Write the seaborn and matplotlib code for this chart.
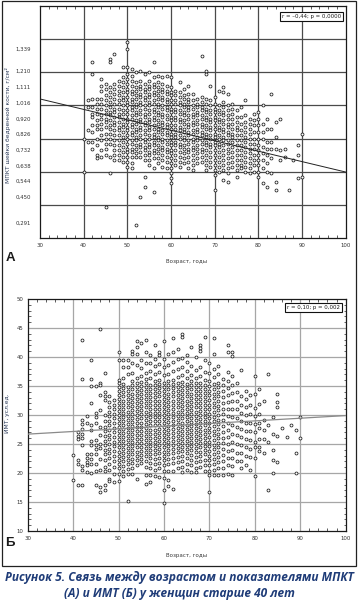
import matplotlib.pyplot as plt
import seaborn as sns
import pandas as pd
import numpy as np
from matplotlib.patches import Rectangle

# --- panel A: femoral neck BMD (g/cm2) by age, one sub-list per year of age ---
bmd_40s = [
    [0.80, 0.60],
    [1.03, 0.99, 0.85, 0.78],
    [1.26, 1.19, 1.04, 0.99, 0.95, 0.93, 0.88, 0.84, 0.78, 0.74],
    [1.04, 1.01, 0.98, 0.95, 0.91, 0.88, 0.86, 0.80, 0.76, 0.70, 0.68],
    [1.16, 1.12, 1.09, 1.04, 1.01, 0.98, 0.94, 0.92, 0.89, 0.86, 0.82, 0.79, 0.73, 0.69],
    [1.13, 1.10, 1.06, 1.03, 1.00, 0.97, 0.95, 0.92, 0.90, 0.87, 0.83, 0.80, 0.77, 0.74, 0.70, 0.39],
    [1.28, 1.26, 1.11, 1.08, 1.05, 1.02, 0.99, 0.96, 0.94, 0.91, 0.88, 0.86, 0.83, 0.80, 0.77, 0.69, 0.59],
    [1.31, 1.13, 1.10, 1.07, 1.04, 1.01, 0.98, 0.96, 0.93, 0.90, 0.88, 0.85, 0.82, 0.79, 0.76, 0.73, 0.70, 0.67],
    [1.15, 1.12, 1.09, 1.06, 1.03, 1.01, 0.98, 0.95, 0.93, 0.90, 0.87, 0.85, 0.82, 0.79, 0.76, 0.73, 0.70, 0.67],
    [1.23, 1.17, 1.14, 1.11, 1.08, 1.05, 1.03, 1.00, 0.97, 0.95, 0.92, 0.89, 0.87, 0.84, 0.81, 0.78, 0.75, 0.72, 0.69, 0.66],
]
bmd_50s = [
    [1.38, 1.34, 1.23, 1.19, 1.16, 1.13, 1.10, 1.08, 1.05, 1.02, 1.00, 0.97, 0.95, 0.92, 0.90, 0.87, 0.85, 0.82, 0.80, 0.77, 0.74, 0.72, 0.69, 0.66, 0.63],
    [1.22, 1.18, 1.15, 1.12, 1.09, 1.07, 1.04, 1.02, 0.99, 0.97, 0.94, 0.92, 0.89, 0.87, 0.84, 0.82, 0.79, 0.77, 0.74, 0.72, 0.69, 0.65, 0.62],
    [1.20, 1.14, 1.11, 1.09, 1.06, 1.04, 1.01, 0.99, 0.96, 0.94, 0.91, 0.89, 0.86, 0.84, 0.81, 0.79, 0.76, 0.74, 0.71, 0.69, 0.28],
    [1.21, 1.15, 1.12, 1.10, 1.07, 1.05, 1.02, 1.00, 0.97, 0.95, 0.92, 0.90, 0.87, 0.85, 0.82, 0.80, 0.77, 0.75, 0.72, 0.69, 0.45],
    [1.19, 1.13, 1.10, 1.08, 1.05, 1.03, 1.00, 0.98, 0.95, 0.93, 0.90, 0.88, 0.85, 0.83, 0.80, 0.78, 0.75, 0.73, 0.70, 0.67, 0.57, 0.51],
    [1.20, 1.15, 1.12, 1.10, 1.07, 1.05, 1.02, 1.00, 0.97, 0.95, 0.92, 0.90, 0.87, 0.85, 0.82, 0.80, 0.77, 0.75, 0.72, 0.70, 0.67, 0.64],
    [1.26, 1.17, 1.13, 1.11, 1.08, 1.06, 1.03, 1.01, 0.98, 0.96, 0.93, 0.91, 0.88, 0.86, 0.83, 0.81, 0.78, 0.76, 0.73, 0.71, 0.68, 0.62, 0.48],
    [1.18, 1.14, 1.11, 1.09, 1.06, 1.04, 1.01, 0.99, 0.96, 0.94, 0.91, 0.89, 0.86, 0.84, 0.81, 0.79, 0.76, 0.74, 0.71, 0.68, 0.65],
    [1.17, 1.13, 1.10, 1.08, 1.05, 1.03, 1.00, 0.98, 0.95, 0.93, 0.90, 0.88, 0.85, 0.83, 0.80, 0.78, 0.75, 0.73, 0.70, 0.67, 0.63],
    [1.18, 1.12, 1.09, 1.07, 1.04, 1.02, 0.99, 0.97, 0.94, 0.92, 0.89, 0.87, 0.84, 0.82, 0.79, 0.77, 0.74, 0.72, 0.69, 0.66, 0.62],
]
bmd_60s = [
    [1.17, 1.11, 1.08, 1.06, 1.03, 1.01, 0.98, 0.96, 0.93, 0.91, 0.88, 0.86, 0.83, 0.81, 0.78, 0.76, 0.73, 0.71, 0.68, 0.65, 0.62, 0.59, 0.56, 0.53],
    [1.09, 1.06, 1.03, 1.01, 0.98, 0.96, 0.93, 0.91, 0.88, 0.86, 0.83, 0.81, 0.78, 0.76, 0.73, 0.70, 0.67, 0.64],
    [1.14, 1.08, 1.05, 1.02, 1.00, 0.97, 0.95, 0.92, 0.90, 0.87, 0.85, 0.82, 0.80, 0.77, 0.75, 0.72, 0.69, 0.66, 0.63],
    [1.10, 1.06, 1.04, 1.01, 0.99, 0.96, 0.94, 0.91, 0.89, 0.86, 0.84, 0.81, 0.79, 0.76, 0.74, 0.71, 0.68, 0.65],
    [1.12, 1.07, 1.04, 1.02, 0.99, 0.97, 0.94, 0.92, 0.89, 0.87, 0.84, 0.82, 0.79, 0.77, 0.74, 0.72, 0.69, 0.66, 0.62],
    [1.07, 1.03, 1.00, 0.98, 0.95, 0.93, 0.90, 0.88, 0.85, 0.83, 0.80, 0.78, 0.75, 0.73, 0.70, 0.67, 0.64, 0.61],
    [1.04, 1.01, 0.99, 0.96, 0.94, 0.91, 0.89, 0.86, 0.84, 0.81, 0.79, 0.76, 0.74, 0.71, 0.68, 0.65],
    [1.30, 1.05, 1.02, 0.99, 0.97, 0.94, 0.92, 0.89, 0.87, 0.84, 0.82, 0.79, 0.77, 0.74, 0.72, 0.69, 0.66],
    [1.21, 1.19, 1.04, 1.01, 0.98, 0.96, 0.93, 0.91, 0.88, 0.86, 0.83, 0.81, 0.78, 0.76, 0.73, 0.70, 0.67, 0.64, 0.61],
    [1.12, 1.03, 1.00, 0.97, 0.95, 0.92, 0.90, 0.87, 0.85, 0.82, 0.80, 0.77, 0.75, 0.72, 0.69, 0.66, 0.63],
]
bmd_70s = [
    [1.05, 1.01, 0.98, 0.96, 0.93, 0.91, 0.88, 0.86, 0.83, 0.81, 0.78, 0.76, 0.73, 0.70, 0.67, 0.64, 0.61, 0.58, 0.49],
    [1.09, 1.00, 0.97, 0.95, 0.92, 0.90, 0.87, 0.85, 0.82, 0.80, 0.77, 0.75, 0.72, 0.69, 0.66, 0.63, 0.60],
    [1.11, 1.08, 1.02, 0.99, 0.96, 0.94, 0.91, 0.89, 0.86, 0.84, 0.81, 0.79, 0.76, 0.73, 0.70, 0.67, 0.64, 0.61, 0.55],
    [1.07, 1.00, 0.97, 0.94, 0.92, 0.89, 0.87, 0.84, 0.82, 0.79, 0.77, 0.74, 0.71, 0.68, 0.65, 0.62, 0.59, 0.54],
    [1.01, 0.98, 0.95, 0.92, 0.89, 0.86, 0.83, 0.81, 0.78, 0.75, 0.72, 0.69, 0.66, 0.63],
    [0.97, 0.93, 0.90, 0.87, 0.85, 0.82, 0.79, 0.76, 0.73, 0.70, 0.67, 0.64, 0.61, 0.57],
    [0.99, 0.93, 0.89, 0.85, 0.82, 0.79, 0.76, 0.73, 0.70, 0.67, 0.64, 0.62],
    [1.03, 0.94, 0.90, 0.87, 0.84, 0.81, 0.78, 0.75, 0.72, 0.69, 0.66, 0.63, 0.60],
    [0.92, 0.89, 0.86, 0.83, 0.80, 0.77, 0.74, 0.71, 0.68, 0.65, 0.62, 0.59],
    [0.95, 0.91, 0.88, 0.84, 0.80, 0.77, 0.74, 0.70, 0.67, 0.64, 0.60],
]
bmd_80s = [
    [0.96, 0.92, 0.88, 0.84, 0.80, 0.76, 0.73, 0.70, 0.67, 0.64, 0.60, 0.57],
    [1.00, 0.89, 0.84, 0.80, 0.75, 0.71, 0.67, 0.62, 0.53],
    [0.92, 0.86, 0.78, 0.74, 0.70, 0.65, 0.60, 0.51],
    [1.07, 0.86, 0.78, 0.74, 0.68, 0.59],
    [0.90, 0.81, 0.74, 0.54, 0.49],
    [0.92, 0.73, 0.67],
    [0.74, 0.69],
    [0.49],
    [0.67],
    [0.76, 0.70, 0.56],
    [0.83, 0.57],
]

# --- panel B: BMI by age ---
bmi_40s = [
    [23.1, 18.8],
    [27.0, 26.3, 25.8, 22.3, 21.6, 17.9],
    [42.9, 36.2, 29.2, 28.4, 27.6, 26.8, 26.0, 24.9, 21.2, 20.5, 18.0],
    [29.9, 28.6, 23.2, 22.6, 21.9, 21.3, 20.1],
    [39.5, 36.2, 35.0, 32.0, 28.2, 27.4, 25.5, 24.8, 23.2, 22.5, 21.5, 20.0],
    [35.0, 30.4, 29.6, 28.6, 25.7, 24.9, 24.1, 23.2, 21.6, 20.4, 18.0],
    [44.8, 35.6, 35.2, 33.5, 30.8, 28.0, 26.5, 25.0, 24.3, 22.4, 20.5, 17.6, 16.8],
    [37.2, 34.0, 33.2, 32.6, 30.0, 29.0, 28.0, 27.2, 26.4, 25.6, 24.8, 24.0, 23.2, 22.3, 21.0, 20.3, 17.9, 17.0],
    [33.2, 32.2, 31.4, 30.6, 29.8, 29.0, 28.2, 27.4, 26.6, 25.8, 25.0, 24.2, 23.4, 22.6, 21.6, 20.6, 19.0, 18.7],
    [32.6, 31.8, 31.0, 30.2, 29.4, 28.6, 27.8, 27.0, 26.2, 25.4, 24.6, 23.8, 23.0, 22.0, 21.0, 19.8, 18.4],
]
bmi_50s = [
    [40.9, 39.4, 36.0, 35.5, 34.9, 34.2, 33.5, 32.8, 32.1, 31.4, 30.7, 30.0, 29.3, 28.6, 27.9, 27.2, 26.5, 25.8, 25.1, 24.4, 23.7, 23.0, 22.3, 21.6, 20.8, 19.9, 18.7],
    [39.4, 38.3, 36.4, 35.3, 34.6, 33.9, 33.2, 32.5, 31.8, 31.1, 30.4, 29.7, 29.0, 28.3, 27.6, 26.9, 26.2, 25.5, 24.8, 24.1, 23.4, 22.7, 22.0, 21.2, 20.3, 19.4],
    [39.4, 38.3, 37.0, 34.8, 34.1, 33.4, 32.7, 32.0, 31.3, 30.6, 29.9, 29.2, 28.5, 27.8, 27.1, 26.4, 25.7, 25.0, 24.3, 23.6, 22.9, 22.2, 21.5, 20.7, 19.9, 15.2],
    [41.1, 40.6, 39.0, 37.2, 35.8, 35.1, 34.4, 33.7, 33.0, 32.3, 31.6, 30.9, 30.2, 29.5, 28.8, 28.1, 27.4, 26.7, 26.0, 25.3, 24.6, 23.9, 23.2, 22.5, 21.8, 20.9, 19.8],
    [42.7, 41.7, 40.5, 38.6, 36.3, 35.6, 34.9, 34.2, 33.5, 32.8, 32.1, 31.4, 30.7, 30.0, 29.3, 28.6, 27.9, 27.2, 26.5, 25.8, 25.1, 24.4, 23.7, 23.0, 22.2, 21.3, 18.9],
    [42.5, 39.4, 38.1, 36.8, 35.7, 35.0, 34.3, 33.6, 32.9, 32.2, 31.5, 30.8, 30.1, 29.4, 28.7, 28.0, 27.3, 26.6, 25.9, 25.2, 24.5, 23.8, 23.1, 22.4, 21.7],
    [43.0, 40.8, 38.9, 37.3, 36.2, 35.5, 34.8, 34.1, 33.4, 32.7, 32.0, 31.3, 30.6, 29.9, 29.2, 28.5, 27.8, 27.1, 26.4, 25.7, 25.0, 24.3, 23.6, 22.9, 22.0, 21.1, 19.6, 18.1],
    [40.4, 38.9, 37.6, 36.3, 35.2, 34.5, 33.8, 33.1, 32.4, 31.7, 31.0, 30.3, 29.6, 28.9, 28.2, 27.5, 26.8, 26.1, 25.4, 24.7, 24.0, 23.3, 22.6, 21.8, 20.9, 19.6, 18.4],
    [42.0, 39.6, 38.4, 37.1, 35.9, 35.2, 34.5, 33.8, 33.1, 32.4, 31.7, 31.0, 30.3, 29.6, 28.9, 28.2, 27.5, 26.8, 26.1, 25.4, 24.7, 24.0, 23.3, 22.5, 21.6, 20.6, 19.5],
    [40.8, 40.3, 38.8, 37.4, 36.0, 35.3, 34.6, 33.9, 33.2, 32.5, 31.8, 31.1, 30.4, 29.7, 29.0, 28.3, 27.6, 26.9, 26.2, 25.5, 24.8, 24.1, 23.4, 22.6, 21.8, 20.8, 19.3],
]
bmi_60s = [
    [42.8, 39.6, 38.2, 36.9, 35.6, 34.9, 34.2, 33.5, 32.8, 32.1, 31.4, 30.7, 30.0, 29.3, 28.6, 27.9, 27.2, 26.5, 25.8, 25.1, 24.4, 23.7, 23.0, 22.2, 21.3, 20.3, 19.2, 17.0, 14.8],
    [40.6, 38.6, 37.0, 35.8, 35.1, 34.4, 33.7, 33.0, 32.3, 31.6, 30.9, 30.2, 29.5, 28.8, 28.1, 27.4, 26.7, 26.0, 25.3, 24.6, 23.9, 23.2, 22.4, 21.5, 20.4, 18.8, 17.8],
    [43.3, 40.8, 39.1, 37.6, 36.1, 35.3, 34.6, 33.9, 33.2, 32.5, 31.8, 31.1, 30.4, 29.7, 29.0, 28.3, 27.6, 26.9, 26.2, 25.5, 24.8, 24.1, 23.4, 22.6, 21.7, 20.3, 17.3],
    [41.4, 39.6, 38.0, 36.6, 35.5, 34.8, 34.1, 33.4, 32.7, 32.0, 31.3, 30.6, 29.9, 29.2, 28.5, 27.8, 27.1, 26.4, 25.7, 25.0, 24.3, 23.6, 22.8, 21.9, 20.8],
    [43.9, 43.4, 39.9, 38.3, 36.9, 35.7, 35.0, 34.3, 33.6, 32.9, 32.2, 31.5, 30.8, 30.1, 29.4, 28.7, 28.0, 27.3, 26.6, 25.9, 25.2, 24.5, 23.8, 23.0, 22.1, 21.1, 20.2],
    [40.3, 39.1, 37.6, 36.3, 35.3, 34.6, 33.9, 33.2, 32.5, 31.8, 31.1, 30.4, 29.7, 29.0, 28.3, 27.6, 26.9, 26.2, 25.5, 24.8, 24.1, 23.4, 22.6, 21.5, 20.5],
    [41.8, 38.5, 36.9, 35.8, 35.1, 34.4, 33.7, 33.0, 32.3, 31.6, 30.9, 30.2, 29.5, 28.8, 28.1, 27.4, 26.7, 26.0, 25.3, 24.6, 23.9, 23.1, 22.2, 21.3, 20.2],
    [40.0, 37.8, 36.4, 35.5, 34.8, 34.1, 33.4, 32.7, 32.0, 31.3, 30.6, 29.9, 29.2, 28.5, 27.8, 27.1, 26.4, 25.7, 25.0, 24.3, 23.6, 22.8, 21.9, 20.8, 20.2],
    [42.0, 41.5, 41.0, 38.2, 36.8, 35.6, 34.9, 34.2, 33.5, 32.8, 32.1, 31.4, 30.7, 30.0, 29.3, 28.6, 27.9, 27.2, 26.5, 25.8, 25.1, 24.4, 23.7, 22.9, 22.0, 21.0],
    [43.5, 39.5, 37.4, 36.1, 35.2, 34.5, 33.8, 33.1, 32.4, 31.7, 31.0, 30.3, 29.6, 28.9, 28.2, 27.5, 26.8, 26.1, 25.4, 24.7, 24.0, 23.2, 22.3, 21.4, 20.4],
]
bmi_70s = [
    [39.0, 37.2, 35.9, 35.0, 34.2, 33.4, 32.6, 31.8, 31.0, 30.2, 29.4, 28.6, 27.8, 27.0, 26.2, 25.4, 24.6, 23.8, 23.0, 22.2, 21.3, 20.4, 19.6, 16.8],
    [43.3, 40.6, 37.9, 36.5, 35.3, 34.5, 33.7, 32.9, 32.1, 31.3, 30.5, 29.7, 28.9, 28.1, 27.3, 26.5, 25.7, 24.9, 24.1, 23.3, 22.5, 21.6, 20.6, 19.6],
    [38.5, 37.0, 35.6, 34.8, 34.0, 33.2, 32.4, 31.6, 30.8, 30.0, 29.2, 28.4, 27.6, 26.8, 26.0, 25.2, 24.4, 23.6, 22.8, 21.9, 20.9, 19.7],
    [36.2, 35.1, 34.1, 33.1, 32.1, 31.1, 30.1, 29.1, 28.1, 27.1, 26.1, 25.1, 24.1, 23.1, 22.0, 20.9, 19.7],
    [42.0, 40.8, 37.4, 35.8, 34.6, 33.4, 32.2, 31.0, 29.8, 28.6, 27.4, 26.2, 25.0, 23.8, 22.6, 21.4, 19.8],
    [40.8, 40.1, 36.8, 35.2, 33.8, 32.4, 31.0, 29.6, 28.2, 26.8, 25.4, 24.0, 22.6, 21.2, 19.7],
    [35.5, 33.9, 32.5, 31.0, 29.5, 28.0, 26.5, 25.0, 23.5, 22.0],
    [37.8, 33.2, 31.8, 30.4, 29.0, 27.6, 26.2, 24.8, 23.4, 22.0, 20.8],
    [34.2, 32.8, 31.4, 30.0, 28.6, 27.2, 25.8, 24.4, 23.0, 21.4],
    [33.4, 31.8, 30.2, 28.7, 27.2, 25.7, 24.2, 22.7, 20.5],
]
bmi_80s = [
    [36.8, 33.6, 31.2, 29.8, 28.4, 27.0, 25.4, 24.4, 22.6, 19.5],
    [34.4, 31.9, 30.2, 28.6, 27.8, 25.8, 24.5, 23.8],
    [32.5, 29.1, 27.4, 25.9, 23.4],
    [37.1, 28.2, 25.4, 17.1],
    [29.6, 26.7, 24.0, 22.2, 20.0],
    [33.6, 32.2, 31.4, 26.3, 21.9],
    [27.8],
    [26.2],
    [28.2],
    [27.5, 23.5, 20.0],
    [29.6, 26.0],
]
decade_starts = [40, 50, 60, 70, 80]

# straight fit lines (intercept, slope)
fit_a = (1.228, -0.0063)
fit_b = (25.33, 0.0457)
stat_a = 'r = \u20130,44; p = 0,0000'
stat_b = 'r = 0,10; p = 0,002'

bmd_ticks = [0.291, 0.450, 0.544, 0.638, 0.732, 0.826, 0.920, 1.016, 1.111, 1.210, 1.339]


def to_frame(blocks, col):
    rows = []
    for start, block in zip(decade_starts, blocks):
        for i, vals in enumerate(block):
            for v in vals:
                rows.append((start + i, v))
    return pd.DataFrame(rows, columns=['age', col])


df_a = to_frame([bmd_40s, bmd_50s, bmd_60s, bmd_70s, bmd_80s], 'bmd')
df_b = to_frame([bmi_40s, bmi_50s, bmi_60s, bmi_70s, bmi_80s], 'bmi')

sns.set_style('white')
plt.rcParams['font.family'] = ['DejaVu Sans']

W, H = 358, 600
fig = plt.figure(figsize=(W / 100, H / 100), dpi=100)


def px_axes(x0, y0, x1, y1):
    return fig.add_axes([x0 / W, 1 - y1 / H, (x1 - x0) / W, (y1 - y0) / H])


ax_a = px_axes(40, 6, 345.7, 238)
ax_b = px_axes(27.7, 299, 345.6, 531)

pt_kw = dict(marker='o', s=4.5, facecolor='white', edgecolor='#1a1a1a',
             linewidth=0.55, legend=False, zorder=3)
sns.scatterplot(data=df_a, x='age', y='bmd', ax=ax_a, **pt_kw)
sns.scatterplot(data=df_b, x='age', y='bmi', ax=ax_b, **pt_kw)

xs = np.array([30, 100])
sns.lineplot(x=xs, y=fit_a[0] + fit_a[1] * xs, ax=ax_a, color='#222222', lw=0.7, zorder=4)
sns.lineplot(x=xs, y=fit_b[0] + fit_b[1] * xs, ax=ax_b, color='#8a8a8a', lw=0.9, zorder=4)

tick_col = '#333333'
for ax, gcol in [(ax_a, '#4a4a4a'), (ax_b, '#a6a6a6')]:
    ax.set_xlim(30, 100)
    ax.set_xticks(range(30, 101, 10))
    ax.set_xticks(range(30, 101, 2), minor=True)
    for v in range(40, 100, 10):
        ax.axvline(v, color=gcol, lw=0.9, zorder=1)
    for s in ax.spines.values():
        s.set_color('#1a1a1a')
        s.set_linewidth(0.9)
    ax.set_xlabel('')
    ax.set_ylabel('')
    ax.tick_params(axis='x', which='major', length=0, labelsize=3.9, pad=3.5, labelcolor=tick_col)
    ax.tick_params(axis='x', which='minor', direction='in', length=2, width=0.5,
                   top=True, bottom=True, color='#1a1a1a')

# panel A y-axis: odd labels, grid every 0.2
ax_a.set_ylim(0.2, 1.6)
ax_a.set_yticks(bmd_ticks)
ax_a.set_yticklabels([f'{t:.3f}'.replace('.', ',') for t in bmd_ticks])
ax_a.set_yticks(np.arange(0.4, 1.41, 0.2), minor=True)
for v in np.arange(0.4, 1.41, 0.2):
    ax_a.axhline(v, color='#4a4a4a', lw=0.9, zorder=1)
ax_a.tick_params(axis='y', which='major', direction='in', length=2.2, width=0.5,
                 labelsize=3.9, pad=6.5, labelcolor=tick_col)
ax_a.tick_params(axis='y', which='minor', direction='in', length=2.2, width=0.5,
                 left=False, right=True)

# panel B y-axis
ax_b.set_ylim(10, 50)
ax_b.set_yticks(range(10, 51, 5))
ax_b.set_yticks(range(10, 51, 1), minor=True)
for v in range(15, 50, 5):
    ax_b.axhline(v, color='#a6a6a6', lw=0.9, zorder=1)
ax_b.tick_params(axis='y', which='major', length=0, labelsize=3.9, pad=3, labelcolor=tick_col)
ax_b.tick_params(axis='y', which='minor', direction='in', length=1.8, width=0.5,
                 left=True, right=True)


def ftext(x, y, s, **kw):
    fig.text(x / W, 1 - y / H, s, **kw)


lab_col = '#2b3a58'
ftext(187, 261.5, 'Возраст, годы', ha='center', va='center', fontsize=4.0, color='#3a3a3a')
ftext(187, 555, 'Возраст, годы', ha='center', va='center', fontsize=4.0, color='#3a3a3a')
ftext(8, 125, 'МПКТ шейки бедренной кости, г/см²', ha='center', va='center',
      rotation=90, fontsize=4.3, color=lab_col)
ftext(8, 413, 'ИМТ, усл.ед.', ha='center', va='center', rotation=90, fontsize=4.3, color=lab_col)

ftext(10, 258, 'А', ha='center', va='center', fontsize=9.5, fontweight='bold',
      family='Liberation Sans', color='#1a1a1a')
ftext(10, 543, 'Б', ha='center', va='center', fontsize=9.5, fontweight='bold',
      family='Liberation Sans', color='#1a1a1a')

box = dict(boxstyle='square,pad=0.35', facecolor='white', edgecolor='#111111', linewidth=0.8)
ftext(311.5, 16.5, stat_a, ha='center', va='center', fontsize=3.9, color='#1a1a1a', bbox=box)
ftext(313.3, 307.5, stat_b, ha='center', va='center', fontsize=3.9, color='#1a1a1a', bbox=box)

# outer frame around both panels
fig.patches.append(Rectangle((1.5 / W, 1 - 566 / H), 354.5 / W, 565 / H,
                             transform=fig.transFigure, fill=False,
                             edgecolor='#222222', linewidth=0.9))

cap_kw = dict(ha='center', va='center', fontsize=8.6, fontweight='bold', style='italic',
              color='#1f3c78', family=['Liberation Sans Narrow', 'Open Sans'])
ftext(179, 577, 'Рисунок 5. Связь между возрастом и показателями МПКТ', **cap_kw)
ftext(179, 593.5, '(А) и ИМТ (Б) у женщин старше 40 лет', **cap_kw)

fig.savefig('out.png', dpi=100, facecolor='white')
